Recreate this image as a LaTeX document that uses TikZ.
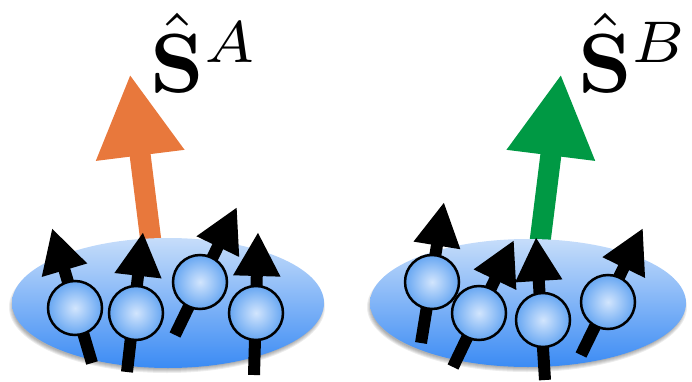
\documentclass[tikz,border=0pt]{standalone}
\usetikzlibrary{arrows.meta}

\definecolor{spinA}{HTML}{E8783C}
\definecolor{spinB}{HTML}{009944}
\definecolor{padtop}{HTML}{C6DDFA}
\definecolor{padbot}{HTML}{3B8BF4}
\definecolor{ballin}{HTML}{D2E5FD}
\definecolor{ballout}{HTML}{66A6F2}

\tikzset{
  pad/.style={top color=padtop,bottom color=padbot},
  ball/.style={draw=black,line width=2.5pt,shading=radial,inner color=ballin,outer color=ballout},
  rod/.style={line width=12pt,-{Triangle[length=44pt,width=44pt]}},
  bigspin/.style={line width=21pt,-{Triangle[length=82pt,width=83pt]}},
}

% one electron spin: ball centre, tail of the rod, tip of the head
\newcommand{\spin}[3]{%
  \draw[rod] #2 -- #3;
  \path[ball] #1 circle (27);
}

% soft shadow under a pad
\newcommand{\padshadow}[3]{%
  \foreach \g in {0,1,...,4}
    \fill[black,opacity=0.07] #1 ++(-1,4) ellipse ({#2-2+\g} and {#3-3+\g});
}

\begin{document}
\begin{tikzpicture}[x=1pt,y=-1pt]
\useasboundingbox (0,0) rectangle (692,382);

% total spin of A
\draw[bigspin,spinA] (151,242) -- (130,74);
\node (labelA) at (205,53) [scale=8.4] {$\hat{\mathbf{S}}^A$};

% total spin of B
\draw[bigspin,spinB] (540,242) -- (561,74);
\node (labelB) at (634,53) [scale=8.4] {$\hat{\mathbf{S}}^B$};

% the two pads
\padshadow{(168,303)}{156}{65}
\path[pad] (168,303) ellipse (156 and 65);
\padshadow{(528,303)}{158}{64}
\path[pad] (528,303) ellipse (158 and 64);

% spins on pad A
\spin{(75,308)}{(92,363)}{(52,228)}
\spin{(136,313)}{(127,372)}{(143,232)}
\spin{(200,282)}{(175,335)}{(237,207)}
\spin{(256,313)}{(254,375)}{(258,232)}

% spins on pad B
\spin{(432,282)}{(421,343)}{(444,202)}
\spin{(479,313)}{(453,367)}{(514,240)}
\spin{(543,320)}{(545,380)}{(536,237)}
\spin{(608,302)}{(581,355)}{(643,228)}

\end{tikzpicture}
\end{document}
